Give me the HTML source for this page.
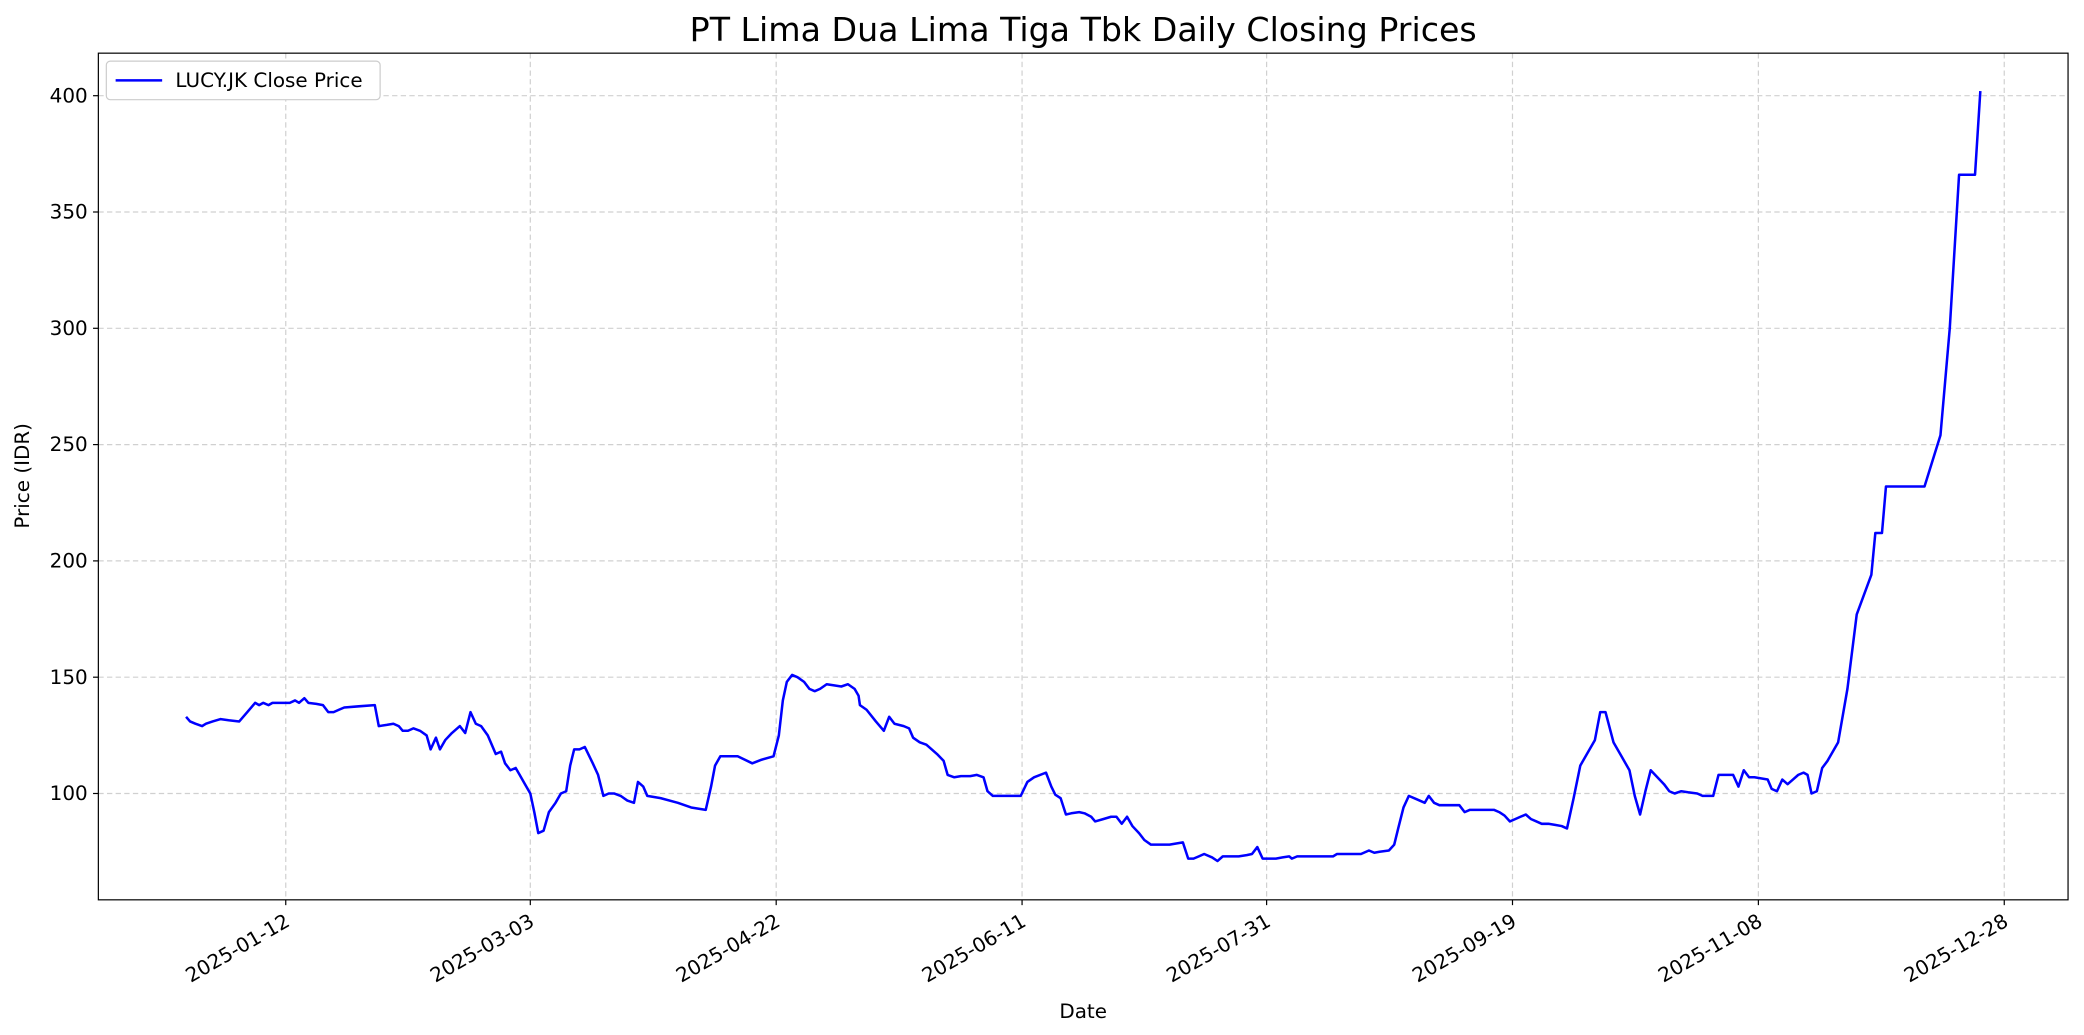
<!DOCTYPE html>
<html><head><meta charset="utf-8"><style>
html,body{margin:0;padding:0;background:#fff;}
svg{display:block;font-family:"DejaVu Sans","Liberation Sans",sans-serif;}
</style></head><body>
<svg id="s" width="2084" height="1035" viewBox="0 0 1568 778.7" preserveAspectRatio="none" xmlns="http://www.w3.org/2000/svg">
<text x="815" y="31" font-size="25" text-anchor="middle" fill="#000">PT Lima Dua Lima Tiga Tbk Daily Closing Prices</text>
<g id="grid" stroke="#d0d0d0" stroke-width="0.9" stroke-dasharray="4,2.5" fill="none"></g>
<path id="line" fill="none" stroke="#0000ff" stroke-width="1.9" stroke-linejoin="round"/>
<rect x="74" y="40" width="1482" height="637" fill="none" stroke="#000" stroke-width="0.9"/>
<g id="ticks" font-size="15" fill="#000"></g>
<text x="815" y="766" font-size="15" text-anchor="middle">Date</text>
<text transform="translate(22,358) rotate(-90)" font-size="15" text-anchor="middle">Price (IDR)</text>
<rect x="80" y="46" width="206" height="29" rx="3" fill="#fff" stroke="#ccc" stroke-width="0.9"/>
<line x1="87" y1="60.5" x2="122" y2="60.5" stroke="#0000ff" stroke-width="1.9"/>
<text x="132" y="65.5" font-size="15">LUCY.JK Close Price</text>
</svg>
<script>
const NS="http://www.w3.org/2000/svg";
const Y=v=>597-(v-100)*1.75;
const g=document.getElementById('grid'),t=document.getElementById('ticks');
function el(p,tag,a,txt){const e=document.createElementNS(NS,tag);for(const k in a)e.setAttribute(k,a[k]);if(txt)e.textContent=txt;p.appendChild(e);return e;}
[100,150,200,250,300,350,400].forEach(v=>{const y=Y(v);el(g,'line',{x1:74,x2:1556,y1:y,y2:y});el(t,'line',{x1:70,x2:74,y1:y,y2:y,stroke:'#000','stroke-width':0.9});el(t,'text',{x:66,y:y+5,'text-anchor':'end'},String(v));});
const xs=[[215,'2025-01-12'],[399,'2025-03-03'],[584,'2025-04-22'],[769,'2025-06-11'],[953,'2025-07-31'],[1138,'2025-09-19'],[1323,'2025-11-08'],[1508,'2025-12-28']];
xs.forEach(([x,l])=>{el(g,'line',{x1:x,x2:x,y1:40,y2:677});el(t,'line',{x1:x,x2:x,y1:677,y2:681,stroke:'#000','stroke-width':0.9});el(t,'text',{transform:`translate(${x+4},${696}) rotate(-30)`,'text-anchor':'end'},l);});
const d=[[140,133],[143,131],[147,130],[152,129],[155,130],[160,131],[166,132],[172,131.5],[180,131],[186,135],[192,139],[195,138],[198,139],[202,138],[205,139],[210,139],[215,139],[218,139],[222,140],[225,139],[229,141],[232,139],[238,138.5],[243,138],[247,135],[251,135],[255,136],[259,137],[270,137.5],[282,138],[285,129],[291,129.5],[296,130],[300,129],[303,127],[307,127],[311,128],[316,127],[321,125],[324,119],[328,124],[331,119],[335,123],[340,126],[346,129],[350,126],[354,135],[358,130],[362,129],[367,125],[373,117],[377,118],[380,113],[384,110],[388,111],[391,108],[395,104],[399,100],[402,92],[405,83],[409,84],[413,92],[418,96],[422,100],[426,101],[429,112],[432,119],[436,119],[440,120],[446,113],[450,108],[454,99],[458,100],[462,100],[467,99],[472,97],[477,96],[480,105],[484,103],[487,99],[497,98],[510,96],[520,94],[531,93],[535,103],[538,112],[542,116],[548,116],[555,116],[566,113],[573,114.5],[582,116],[586,125],[589,140],[592,148],[596,151],[600,150],[605,148],[609,145],[613,144],[617,145],[622,147],[627,146.5],[633,146],[638,147],[643,145],[646,142],[647,138],[652,136],[659,131],[665,127],[669,133],[673,130],[680,129],[684,128],[687,124],[692,122],[697,121],[705,117],[710,114],[713,108],[718,107],[723,107.5],[730,107.5],[735,108],[740,107],[743,101],[747,99],[757,99],[768,99],[773,105],[778,107],[787,109],[791,103],[794,99.5],[798,98],[802,91],[806,91.5],[812,92],[816,91.5],[821,90],[824,88],[830,89],[836,90],[840,90],[844,87],[848,90],[852,86],[857,83],[861,80],[866,78],[871,78],[880,78],[885,78.5],[890,79],[894,72],[898,72],[902,73],[906,74],[912,72.5],[916,71],[920,73],[925,73],[932,73],[938,73.5],[942,74],[946,77],[950,72],[955,72],[960,72],[965,72.5],[970,73],[972,72],[976,73],[980,73],[988,73],[996,73],[1003,73],[1006,74],[1015,74],[1024,74],[1030,75.5],[1034,74.5],[1038,75],[1045,75.5],[1049,78],[1052,85],[1056,94],[1060,99],[1066,97.5],[1072,96],[1075,99],[1079,96],[1083,95],[1090,95],[1098,95],[1102,92],[1106,93],[1112,93],[1120,93],[1124,93],[1128,92],[1132,90.5],[1136,88],[1140,89],[1144,90],[1148,91],[1152,89],[1156,88],[1160,87],[1165,87],[1170,86.5],[1175,86],[1179,85],[1184,98],[1189,112],[1194,117],[1200,123],[1204,135],[1208,135],[1214,122],[1220,116],[1226,110],[1230,99],[1234,91],[1238,101],[1242,110],[1247,107],[1252,104],[1256,101],[1260,100],[1265,101],[1270,100.5],[1277,100],[1281,99],[1285,99],[1289,99],[1293,108],[1300,108],[1304,108],[1308,103],[1312,110],[1316,107],[1320,107],[1325,106.5],[1330,106],[1333,102],[1337,101],[1341,106],[1345,104],[1349,106],[1353,108],[1357,109],[1360,108],[1363,100],[1367,101],[1371,111],[1375,114],[1383,122],[1390,145],[1397,177],[1408,194],[1411,212],[1416,212],[1419,232],[1425,232],[1448,232],[1460,254],[1467,300],[1474,366],[1480,366],[1486,366],[1490,402]];
document.getElementById('line').setAttribute('d','M'+d.map(p=>p[0]+','+Y(p[1]).toFixed(1)).join(' L'));
</script>
</body></html>
